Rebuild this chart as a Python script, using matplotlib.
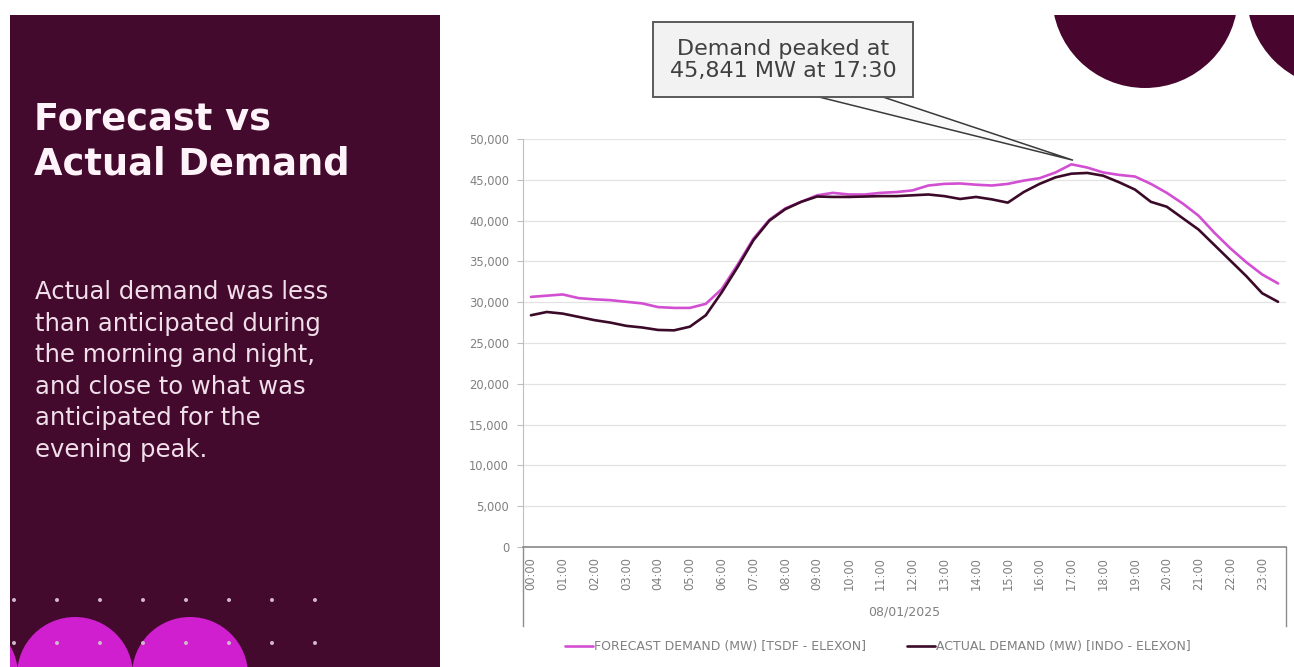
import matplotlib
matplotlib.use("Agg")
import matplotlib.pyplot as plt
from matplotlib.patches import Rectangle, Circle, Polygon
from matplotlib.lines import Line2D

# ---------------- data ----------------
time_labels = [f"{h:02d}:00" for h in range(24)]
forecast = [30650, 30800, 30950, 30500, 30350, 30250, 30050, 29850, 29400, 29300,
            29300, 29800, 31600, 34600, 37800, 40100, 41500, 42300, 43100, 43400,
            43200, 43200, 43400, 43500, 43700, 44300, 44500, 44550, 44400, 44300,
            44500, 44900, 45200, 45900, 46900, 46500, 45900, 45600, 45400, 44500,
            43400, 42100, 40600, 38500, 36600, 34900, 33400, 32300]
actual = [28400, 28800, 28600, 28200, 27800, 27500, 27100, 26900, 26600, 26550,
          27000, 28400, 31200, 34300, 37600, 40000, 41400, 42300, 42950, 42900,
          42900, 42950, 43000, 43000, 43100, 43200, 43000, 42650, 42900, 42600,
          42200, 43500, 44500, 45300, 45750, 45841, 45500, 44700, 43800, 42300,
          41700, 40300, 38900, 37000, 35100, 33200, 31100, 30050]
yticks = list(range(0, 50001, 5000))
date_label = "08/01/2025"
series_names = ["FORECAST DEMAND (MW) [TSDF - ELEXON]", "ACTUAL DEMAND (MW) [INDO - ELEXON]"]
title = "Forecast vs\nActual Demand"
body = ("Actual demand was less\nthan anticipated during\nthe morning and night,\n"
        "and close to what was\nanticipated for the\nevening peak.")
callout = "Demand peaked at\n45,841 MW at 17:30"
callout_point = (34.1, 47400)

# ---------------- style ----------------
W, H = 1294, 667
DARK = "#440a2e"
MAGENTA = "#d24fd2"
ACTUAL_C = "#3b0a28"
GREY_T = "#808080"
FONT = ["DejaVu Sans"]

fig = plt.figure(figsize=(W / 100, H / 100), dpi=100)
fig.patch.set_facecolor("white")

# background decoration axes in pixel coordinates
bg = fig.add_axes([0, 0, 1, 1], zorder=0)
bg.set_xlim(0, W)
bg.set_ylim(H, 0)
bg.axis("off")

panel = Rectangle((10, 15), 430, H - 15, fc=DARK, ec="none")
bg.add_patch(panel)
for cx in (-40, 75, 190):
    c = Circle((cx, 675), 58, fc="#cf1fcf", ec="none")
    bg.add_patch(c)
    c.set_clip_path(panel)
for row_y in (600, 643):
    for k in range(8):
        d = Circle((14 + 43 * k, row_y), 2.0, fc="#d2b6ca", ec="none", zorder=3)
        bg.add_patch(d)
        d.set_clip_path(panel)
top_clip = Rectangle((0, 15), W, H, fc="none", ec="none")
bg.add_patch(top_clip)
for cx in (1145, 1340):
    c = Circle((cx, -5), 93, fc="#48052d", ec="none")
    bg.add_patch(c)
    c.set_clip_path(top_clip)

bg.text(34, 101, title, color="#fdf3f8", fontsize=26.5, fontweight="bold",
        family=FONT, va="top", ha="left", linespacing=1.25)
bg.text(35, 280, body, color="#f1dfea", fontsize=17.5, family=FONT,
        va="top", ha="left", linespacing=1.40)

# ---------------- chart ----------------
x0, x1 = 523, 1286
yb, yt = 547, 139
ax = fig.add_axes([x0 / W, (H - yb) / H, (x1 - x0) / W, (yb - yt) / H], zorder=2)
ax.set_facecolor("none")
n = len(forecast)
xs = list(range(n))
ln_f, = ax.plot(xs, forecast, color=MAGENTA, lw=1.9, solid_capstyle="round",
                label=series_names[0], zorder=3)
ln_a, = ax.plot(xs, actual, color=ACTUAL_C, lw=1.9, solid_capstyle="round",
                label=series_names[1], zorder=4)
ax.set_xlim(-0.5, n - 0.5)
ax.set_ylim(0, 50000)
ax.set_yticks(yticks)
ax.set_yticklabels([f"{v:,}" for v in yticks], fontsize=8.3, color=GREY_T, family=FONT)
ax.set_xticks(xs[::2])
ax.set_xticklabels(time_labels, rotation=90, fontsize=8.3, color=GREY_T, family=FONT)
ax.tick_params(axis="x", length=0, pad=7)
ax.tick_params(axis="y", length=4, width=0.8, color="#bfbfbf", pad=6)
ax.yaxis.grid(True, color="#e3e3e3", lw=0.9)
ax.set_axisbelow(True)
for s in ("top", "right"):
    ax.spines[s].set_visible(False)
ax.spines["left"].set_color("#bfbfbf")
ax.spines["bottom"].set_color("#7f7f7f")
ax.spines["bottom"].set_linewidth(1.1)

# multi-level category group lines and date label
for px in (x0, x1):
    bg.add_line(Line2D([px, px], [yb, 626], color="#8c8c8c", lw=1.0))
ax.text(0.5, -0.159, date_label, transform=ax.transAxes, ha="center", va="center",
        fontsize=9, color=GREY_T, family=FONT)

leg = ax.legend(handles=[ln_f, ln_a], loc="center", bbox_to_anchor=(0.465, -0.245),
                ncol=2, frameon=False, handlelength=2.2, handletextpad=0.1,
                columnspacing=3.3, prop={"family": FONT, "size": 9})
for t in leg.get_texts():
    t.set_color(GREY_T)

# callout: box + wedge pointing at the peak
fig.canvas.draw()
tip_disp = ax.transData.transform(callout_point)
tip = bg.transData.inverted().transform(tip_disp)
wedge = Polygon([(815, 96), (880, 96), tuple(tip)], closed=True, fc="#f9f9f9",
                ec="#3a3a3a", lw=1.1, transform=bg.transData, clip_on=False, zorder=6)
ax.add_patch(wedge)
box = Rectangle((653, 22), 260, 75, fc="#f2f2f2", ec="#5a5a5a", lw=1.4,
                transform=bg.transData, clip_on=False, zorder=7)
ax.add_patch(box)
ax.text(783, 60, callout, transform=bg.transData, ha="center", va="center",
        fontsize=16, color="#404040", family=FONT, linespacing=1.1, zorder=8,
        clip_on=False)

fig.savefig("out.png", dpi=100, facecolor="white")
